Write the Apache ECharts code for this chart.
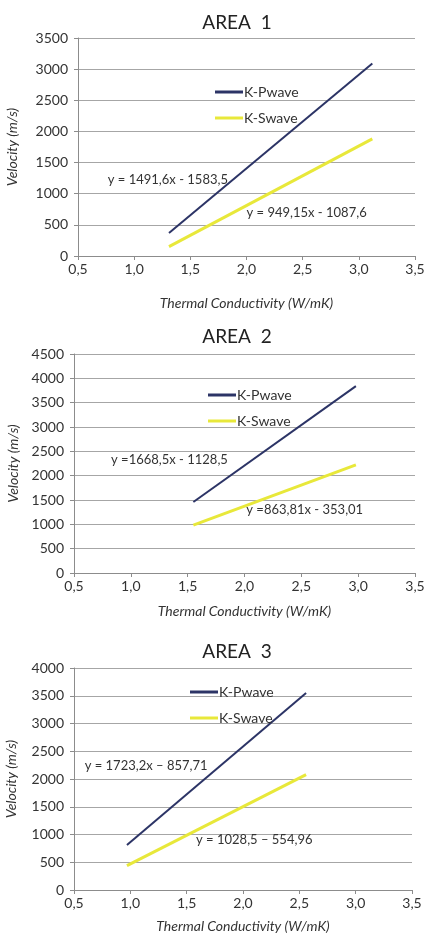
<!DOCTYPE html>
<html>
<head>
    <meta charset="utf-8">
    <title>Velocity vs Thermal Conductivity</title>
    <script src="https://cdn.jsdelivr.net/npm/echarts@6/dist/echarts.min.js"></script>
</head>
<body>
<div id="main"></div>
<style type="text/css">
    html, body {
        height: 100%;
        margin: 0px;
        padding: 0px;
        background: #fff;
    }
    #main {
        width: 425px;
        height: 942px;
    }
</style>

<script type="text/javascript">
    // data
    var areas = ['AREA  1', 'AREA  2', 'AREA  3'];
    var yMax = [3500, 4500, 4000];
    var pwaveX = [[1.31, 3.12], [1.55, 2.98], [0.97, 2.56]];
    var pwaveY = [[370, 3090], [1460, 3840], [810, 3550]];
    var swaveX = [[1.31, 3.12], [1.55, 2.98], [0.97, 2.56]];
    var swaveY = [[150, 1880], [985, 2220], [440, 2080]];
    var pwaveEq = ['y = 1491,6x - 1583,5', 'y =1668,5x - 1128,5', 'y = 1723,2x \u2013 857,71'];
    var swaveEq = ['y = 949,15x - 1087,6', 'y =863,81x - 353,01', 'y = 1028,5 \u2013 554,96'];

    // layout per panel
    var grids = [
        {left: 78, right: 10, top: 38, height: 218, outerBoundsMode: 'none'},
        {left: 74, right: 10, top: 354, height: 219, outerBoundsMode: 'none'},
        {left: 74, right: 13, top: 668, height: 222, outerBoundsMode: 'none'}
    ];
    var titleTop = [8, 322, 637];
    var legendPos = [{left: 210, top: 80}, {left: 203, top: 383}, {left: 185, top: 680}];
    var pEqPos = [[1.30, 1220], [1.34, 2322], [1.14, 2234]];
    var sEqPos = [[2.535, 690], [2.53, 1295], [2.10, 901]];
    var xNameGap = [40, 31, 29];
    var yNameGap = [59, 53, 56];

    var font = 'Lato, "Open Sans", sans-serif';
    var pColor = '#2c3466';
    var sColor = '#e8e83a';

    var myChart = echarts.init(document.getElementById('main'));

    var pairs = function (xs, ys) {
        var res = [];
        for (var i = 0; i < xs.length; i++) {
            res.push([xs[i], ys[i]]);
        }
        return res;
    };

    var eqLabel = function (pos, text) {
        return {
            symbol: 'circle',
            symbolSize: 0,
            silent: true,
            label: {
                show: true,
                position: 'inside',
                color: '#333',
                fontFamily: font,
                fontSize: 13,
                formatter: text
            },
            data: [{coord: pos}]
        };
    };

    var title = [], xAxis = [], yAxis = [], legend = [], series = [];
    for (var i = 0; i < 3; i++) {
        title.push({
            text: areas[i],
            left: 232,
            top: titleTop[i],
            textAlign: 'center',
            textStyle: {fontFamily: font, fontSize: 19, fontWeight: 'normal', color: '#222'}
        });
        xAxis.push({
            type: 'value',
            gridIndex: i,
            min: 0.5,
            max: 3.5,
            interval: 0.5,
            name: 'Thermal Conductivity (W/mK)',
            nameLocation: 'middle',
            nameGap: xNameGap[i],
            nameTextStyle: {fontFamily: font, fontSize: 14, fontStyle: 'italic', color: '#333'},
            axisLine: {lineStyle: {color: '#8c8c8c'}},
            axisTick: {show: true, length: 4, lineStyle: {color: '#8c8c8c'}},
            axisLabel: {
                fontFamily: font, fontSize: 14, color: '#333', margin: 6,
                formatter: function (v) {
                    return v.toFixed(1).replace('.', ',');
                }
            },
            splitLine: {show: false}
        });
        yAxis.push({
            type: 'value',
            gridIndex: i,
            min: 0,
            max: yMax[i],
            interval: 500,
            name: 'Velocity (m/s)',
            nameLocation: 'middle',
            nameGap: yNameGap[i],
            nameTextStyle: {fontFamily: font, fontSize: 14, fontStyle: 'italic', color: '#333'},
            axisLine: {show: true, lineStyle: {color: '#8c8c8c'}},
            axisTick: {show: true, length: 4, lineStyle: {color: '#8c8c8c'}},
            axisLabel: {
                fontFamily: font, fontSize: 14, color: '#333', margin: 10,
                formatter: function (v) {
                    return String(v);
                }
            },
            splitLine: {lineStyle: {color: '#a6a6a6', width: 1}}
        });
        legend.push({
            left: legendPos[i].left,
            top: legendPos[i].top,
            orient: 'vertical',
            itemGap: 12,
            itemWidth: 28,
            itemHeight: 3,
            icon: 'rect',
            selectedMode: false,
            textStyle: {fontFamily: font, fontSize: 14, color: '#333', padding: [0, 0, 0, -4]},
            data: ['K-Pwave', 'K-Swave']
        });
        series.push({
            name: 'K-Pwave',
            type: 'line',
            xAxisIndex: i,
            yAxisIndex: i,
            showSymbol: false,
            lineStyle: {color: pColor, width: 2},
            itemStyle: {color: pColor},
            data: pairs(pwaveX[i], pwaveY[i]),
            markPoint: eqLabel(pEqPos[i], pwaveEq[i])
        });
        series.push({
            name: 'K-Swave',
            type: 'line',
            xAxisIndex: i,
            yAxisIndex: i,
            showSymbol: false,
            lineStyle: {color: sColor, width: 3},
            itemStyle: {color: sColor},
            data: pairs(swaveX[i], swaveY[i]),
            markPoint: eqLabel(sEqPos[i], swaveEq[i])
        });
    }

    var option = {
        backgroundColor: '#fff',
        animation: false,
        title: title,
        grid: grids,
        xAxis: xAxis,
        yAxis: yAxis,
        legend: legend,
        series: series
    };
    myChart.setOption(option);
</script>
</body>
</html>
